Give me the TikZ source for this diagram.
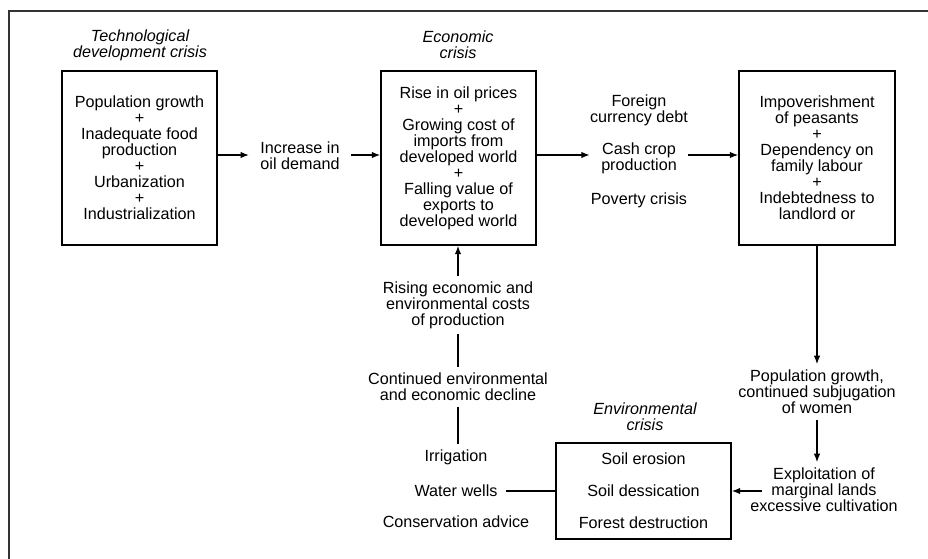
\documentclass[tikz,border=0pt]{standalone}
\usepackage{fontspec}
\setmainfont{Liberation Sans}
\usetikzlibrary{calc}
\usetikzlibrary{arrows,arrows.meta}
\usetikzlibrary{positioning}

\begin{document}
\begin{tikzpicture}[font=\fontsize{11.5pt}{11.4pt}\selectfont,
  crisisbox/.style={draw, line width=1.1pt, align=center, minimum width=3.875cm, minimum height=4.35cm, inner sep=0pt},
  txt/.style={align=center, inner xsep=.28cm, inner ysep=.14cm},
  heading/.style={align=center, font=\fontsize{11.5pt}{11.4pt}\selectfont\itshape},
  link/.style={line width=.9pt},
  flow/.style={line width=.9pt, -{Latex[length=6pt,width=4.6pt]}}]
\useasboundingbox (0,0) rectangle (23.2,-13.975);
% frame, cut at right and bottom
\draw[black!80, line width=1.3pt] (23.2,-.275) -- (.225,-.275) -- (.225,-13.975);
% titles
\node[heading] (ttech) at (3.5,-1.125) {Technological\\development crisis};
\node[heading] (tecon) at (11.45,-1.125) {Economic\\crisis};
\node[heading] (tenv) at (16.125,-10.425) {Environmental\\crisis};
% top row
\node[crisisbox] (tech) at (3.4875,-3.95) {Population growth\\+\\Inadequate food\\production\\+\\Urbanization\\+\\Industrialization};
\node[txt] (demand) at (7.5,-3.9) {Increase in\\oil demand};
\node[crisisbox] (econ) at (11.4625,-3.95) {Rise in oil prices\\+\\Growing cost of\\imports from\\developed world\\+\\Falling value of\\exports to\\developed world};
\node[txt] (debt) at (15.975,-2.75) {Foreign\\currency debt};
\node[txt] (cash) at (15.975,-3.95) {Cash crop\\production};
\node[txt] (poverty) at (15.975,-5.0) {Poverty crisis};
\node[crisisbox, minimum width=3.9cm] (peasant) at (20.425,-3.95) {Impoverishment\\of peasants\\+\\Dependency on\\family labour\\+\\Indebtedness to\\landlord or};
% right column
\node[txt] (women) at (20.425,-9.8) {Population growth,\\continued subjugation\\of women};
\node[txt] (exploit) at (20.6,-12.25) {Exploitation of\\marginal lands\\excessive cultivation};
\coordinate (exarr) at (19.05,-12.275);
% environmental crisis
\node[draw, line width=1.1pt, align=center, minimum width=4.375cm, minimum height=2.4cm] (env) at (16.0875,-12.275) {Soil erosion\\[.4cm]Soil dessication\\[.4cm]Forest destruction};
% left column
\node[txt] (rising) at (11.45,-7.625) {Rising economic and\\environmental costs\\of production};
\node[txt] (decline) at (11.45,-9.675) {Continued environmental\\and economic decline};
\node[txt, inner xsep=.2cm] (irrig) at (11.4,-11.425) {Irrigation};
\node[txt, inner xsep=.2cm] (wells) at (11.4,-12.275) {Water wells};
\node[txt, inner xsep=.2cm] (advice) at (11.4,-13.05) {Conservation advice};
% connectors
\draw[flow] (tech.east |- 0,-3.875) -- (demand.west |- 0,-3.875);
\draw[flow] (demand.east |- 0,-3.875) -- (econ.west |- 0,-3.875);
\draw[flow] (econ.east |- 0,-3.875) -- (cash.west |- 0,-3.875);
\draw[flow] (cash.east |- 0,-3.875) -- (peasant.west |- 0,-3.875);
\draw[flow] (peasant.south) -- (peasant.south |- women.north);
\draw[flow] (women.south) -- (women.south |- exploit.north);
\draw[flow] (exarr) -- (env.east);
\draw[link] (env.west) -- (wells.east);
\draw[link] (decline.south) -- (decline.south |- irrig.north);
\draw[link] (rising.south) -- (rising.south |- decline.north);
\draw[flow] (rising.north) -- (rising.north |- econ.south);
\end{tikzpicture}
\end{document}
